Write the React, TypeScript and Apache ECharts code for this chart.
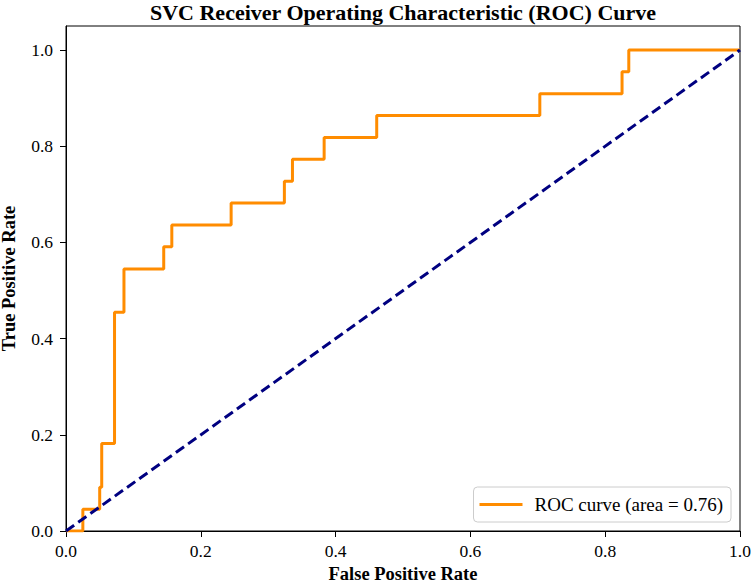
import React, { useEffect, useRef } from "react";
import * as echarts from "echarts";

const fpr = [0, 0.025, 0.025, 0.05, 0.05, 0.053, 0.053, 0.072, 0.072, 0.086, 0.086, 0.145, 0.145, 0.157, 0.157, 0.245, 0.245, 0.324, 0.324, 0.336, 0.336, 0.383, 0.383, 0.461, 0.461, 0.703, 0.703, 0.825, 0.825, 0.835, 0.835, 1.0];
const tpr = [0, 0, 0.045, 0.045, 0.091, 0.091, 0.182, 0.182, 0.455, 0.455, 0.545, 0.545, 0.591, 0.591, 0.636, 0.636, 0.682, 0.682, 0.727, 0.727, 0.773, 0.773, 0.818, 0.818, 0.864, 0.864, 0.909, 0.909, 0.955, 0.955, 1.0, 1.0];
const diagX = [0, 1];
const diagY = [0, 1];
const rocName = "ROC curve (area = 0.76)";
const title = "SVC Receiver Operating Characteristic (ROC) Curve";

const FONT = "'Liberation Serif', 'DejaVu Serif', serif";

export default function App() {
  const ref = useRef<HTMLDivElement>(null);
  useEffect(() => {
    if (!ref.current) return;
    const chart = echarts.init(ref.current, undefined, { renderer: "svg" });
    const fmt = (v: number) =>
      Math.abs(v * 5 - Math.round(v * 5)) < 1e-6 ? v.toFixed(1) : "";
    chart.setOption({
      animation: false,
      textStyle: { fontFamily: FONT },
      title: {
        text: title,
        left: 403,
        textAlign: "center",
        top: 1,
        padding: 0,
        textStyle: { fontFamily: FONT, fontSize: 22, fontWeight: "bold", color: "#000" },
      },
      grid: {
        left: 66,
        right: 12,
        top: 26,
        bottom: 55,
        show: true,
        borderColor: "#000",
        borderWidth: 1,
        backgroundColor: "#fff",
        outerBoundsMode: "none",
        containLabel: false,
      },
      legend: {
        data: [{ name: rocName, icon: "rect" }],
        right: 21,
        bottom: 64,
        orient: "vertical",
        backgroundColor: "#fff",
        borderColor: "#cccccc",
        borderWidth: 1,
        borderRadius: 4,
        padding: [8, 8, 8, 6],
        itemWidth: 43,
        itemHeight: 3,
        textStyle: { fontFamily: FONT, fontSize: 19, color: "#000", padding: [0, 0, 0, 7] },
      },
      xAxis: {
        type: "value",
        min: 0,
        max: 1,
        interval: 0.2,
        name: "False Positive Rate",
        nameLocation: "middle",
        nameGap: 32,
        nameTextStyle: { fontFamily: FONT, fontSize: 18.5, fontWeight: "bold", color: "#000" },
        axisLine: { show: true, lineStyle: { color: "#000", width: 1 } },
        axisTick: { show: true, length: 6, lineStyle: { color: "#000" } },
        axisLabel: { fontFamily: FONT, fontSize: 17.5, color: "#000", margin: 11, formatter: fmt },
        splitLine: { show: false },
      },
      yAxis: {
        type: "value",
        min: 0,
        max: 1.05,
        interval: 0.2,
        name: "True Positive Rate",
        nameLocation: "middle",
        nameGap: 48,
        nameRotate: 90,
        nameTextStyle: { fontFamily: FONT, fontSize: 18.5, fontWeight: "bold", color: "#000" },
        axisLine: { show: true, lineStyle: { color: "#000", width: 1 } },
        axisTick: { show: true, length: 6, lineStyle: { color: "#000" } },
        axisLabel: { fontFamily: FONT, fontSize: 17.5, color: "#000", margin: 13, formatter: fmt, showMaxLabel: false },
        splitLine: { show: false },
      },
      series: [
        {
          name: rocName,
          type: "line",
          data: fpr.map((x, i) => [x, tpr[i]]),
          showSymbol: false,
          symbol: "none",
          lineStyle: { color: "#ff8c00", width: 3 },
          itemStyle: { color: "#ff8c00" },
          z: 3,
        },
        {
          name: "diag",
          type: "line",
          data: diagX.map((x, i) => [x, diagY[i]]),
          showSymbol: false,
          symbol: "none",
          lineStyle: { color: "#000080", width: 3, type: [10, 5] },
          z: 4,
        },
      ],
    });
    return () => chart.dispose();
  }, []);
  return (
    <div
      ref={ref}
      style={{ width: 752, height: 586, position: "absolute", left: 0, top: 0 }}
    />
  );
}
